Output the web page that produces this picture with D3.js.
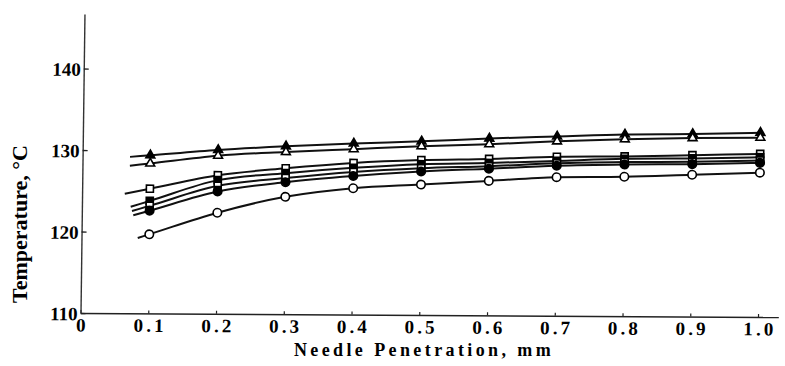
<!DOCTYPE html>
<html>
<head>
<meta charset="utf-8">
<script src="https://cdn.jsdelivr.net/npm/d3@7"></script>
<style>
  html, body { margin: 0; padding: 0; background: #fff; }
  svg { display: block; }
</style>
</head>
<body>
<svg id="chart" width="785" height="366"></svg>
<script>
// Needle penetration (mm) at which each temperature was read
const penetration = [0.1, 0.2, 0.3, 0.4, 0.5, 0.6, 0.7, 0.8, 0.9, 1.0];

// Temperature (°C) of each curve at those penetrations
const filledTriangle = [129.4, 130.1, 130.6, 131.0, 131.3, 131.7, 132.0, 132.3, 132.4, 132.6];
const openTriangle   = [128.4, 129.4, 129.9, 130.3, 130.7, 131.0, 131.4, 131.7, 131.9, 132.0];
const openSquare     = [125.3, 127.0, 127.9, 128.6, 129.0, 129.2, 129.5, 129.6, 129.8, 130.0];
const filledSquare   = [123.8, 126.4, 127.3, 128.0, 128.5, 128.7, 129.0, 129.3, 129.4, 129.6];
const halfSquare     = [123.2, 125.7, 126.7, 127.5, 128.0, 128.3, 128.7, 128.9, 129.0, 129.2];
const filledCircle   = [122.6, 125.0, 126.2, 127.0, 127.6, 128.0, 128.4, 128.6, 128.7, 128.9];
const openCircle     = [119.7, 122.4, 124.4, 125.5, 126.0, 126.5, 127.0, 127.1, 127.4, 127.7];

// Penetration at which each fitted curve begins (a short lead-in before 0.1 mm)
const curveStart = [0.070, 0.070, 0.063, 0.072, 0.074, 0.076, 0.083];

// Axis ticks and labels
const xTicks = [0, 0.1, 0.2, 0.3, 0.4, 0.5, 0.6, 0.7, 0.8, 0.9, 1.0];
const xTickLabels = ["0", "0.1", "0.2", "0.3", "0.4", "0.5", "0.6", "0.7", "0.8", "0.9", "1.0"];
const yTicks = [110, 120, 130, 140];
const yTickLabels = ["110", "120", "130", "140"];
const xTitle = "Needle Penetration, mm";
const yTitle = "Temperature, \u00B0C";

// Marker style for each curve
const series = [
  { values: filledTriangle, shape: "triangle", style: "filled" },
  { values: openTriangle,   shape: "triangle", style: "open" },
  { values: openSquare,     shape: "square",   style: "open" },
  { values: filledSquare,   shape: "square",   style: "filled" },
  { values: halfSquare,     shape: "square",   style: "half" },
  { values: filledCircle,   shape: "circle",   style: "filled" },
  { values: openCircle,     shape: "circle",   style: "open" }
];

const svg = d3.select("#chart");
svg.append("rect").attr("width", 785).attr("height", 366).attr("fill", "#fff");

const ox = 80.5, oy = 313;
const x = d3.scaleLinear().domain([0, 1.03]).range([ox, ox + 1.03 * 677.5]);
const y = d3.scaleLinear().domain([110, 146.7]).range([oy, oy - 36.7 * 8.15]);

// The plate is slightly skewed: the vertical axis leans right, the horizontal one drops to the right
const kx = 0.0133, ky = 0.0058;
const plot = svg.append("g")
  .attr("transform", `translate(${ox},${oy}) matrix(1,${ky},${-kx},1,0,0) translate(${-ox},${-oy})`);

const serif = "'Liberation Serif', 'Times New Roman', serif";

// Horizontal axis
const xAxis = d3.axisBottom(x)
  .tickValues(xTicks)
  .tickFormat((d, i) => xTickLabels[i])
  .tickSizeInner(-3)
  .tickSizeOuter(0)
  .tickPadding(5);
const gx = plot.append("g").attr("transform", `translate(0,${oy})`).call(xAxis);
gx.select(".domain").attr("stroke", "#222").attr("stroke-width", 1.6);
gx.selectAll(".tick line").attr("stroke", "#222").attr("stroke-width", 1.2);
gx.selectAll(".tick text")
  .attr("font-family", serif)
  .attr("font-weight", "bold")
  .attr("font-size", 19)
  .attr("letter-spacing", 3.2)
  .attr("dx", 1.6)
  .attr("fill", "#000");

// Vertical axis
const yAxis = d3.axisLeft(y)
  .tickValues(yTicks)
  .tickFormat((d, i) => yTickLabels[i])
  .tickSizeInner(-5)
  .tickSizeOuter(0)
  .tickPadding(3);
const gy = plot.append("g").attr("transform", `translate(${ox},0)`).call(yAxis);
gy.select(".domain").attr("stroke", "#333").attr("stroke-width", 1.4);
gy.selectAll(".tick line").attr("stroke", "#222").attr("stroke-width", 1.3);
gy.selectAll(".tick text")
  .attr("font-family", serif)
  .attr("font-weight", "bold")
  .attr("font-size", 19)
  .attr("dy", "0.36em")
  .attr("fill", "#000");

// Fitted curves, each with a short lead-in extrapolated from its first segment
const line = d3.line()
  .x(d => x(d[0]))
  .y(d => y(d[1]))
  .curve(d3.curveMonotoneX);

series.forEach((s, i) => {
  const v = s.values;
  const slope = (v[1] - v[0]) / (penetration[1] - penetration[0]);
  const x0 = curveStart[i];
  const pts = [[x0, v[0] + slope * (x0 - penetration[0])]]
    .concat(penetration.map((p, j) => [p, v[j]]));
  plot.append("path")
    .attr("d", line(pts))
    .attr("fill", "none")
    .attr("stroke", "#111")
    .attr("stroke-width", 2);
});

// Markers, drawn above all curves
const symbolOf = { triangle: d3.symbolTriangle, square: d3.symbolSquare, circle: d3.symbolCircle };
const sizeOf = { triangle: 34, square: 50, circle: 56 };

series.forEach(s => {
  const g = plot.append("g");
  const path = d3.symbol().type(symbolOf[s.shape]).size(sizeOf[s.shape])();
  const pts = penetration.map((p, j) => [x(p), y(s.values[j])]);
  g.selectAll("path.mk")
    .data(pts)
    .join("path")
    .attr("class", "mk")
    .attr("transform", d => `translate(${d[0]},${d[1]})`)
    .attr("d", path)
    .attr("fill", s.style === "filled" ? "#000" : "#fff")
    .attr("stroke", "#000")
    .attr("stroke-width", 1.6);
  if (s.style === "half") {
    const h = Math.sqrt(sizeOf.square) / 2;
    g.selectAll("rect.half")
      .data(pts)
      .join("rect")
      .attr("class", "half")
      .attr("x", d => d[0] - h)
      .attr("y", d => d[1])
      .attr("width", 2 * h)
      .attr("height", h)
      .attr("fill", "#000");
  }
});

// Axis titles
svg.append("text")
  .attr("x", 424)
  .attr("y", 356)
  .attr("text-anchor", "middle")
  .attr("font-family", serif)
  .attr("font-weight", "bold")
  .attr("font-size", 18)
  .attr("letter-spacing", 3.4)
  .attr("fill", "#000")
  .text(xTitle);

svg.append("text")
  .attr("transform", "translate(27,224) rotate(-90)")
  .attr("text-anchor", "middle")
  .attr("font-family", serif)
  .attr("font-weight", "bold")
  .attr("font-size", 22)
  .attr("fill", "#000")
  .text(yTitle);
</script>
</body>
</html>
